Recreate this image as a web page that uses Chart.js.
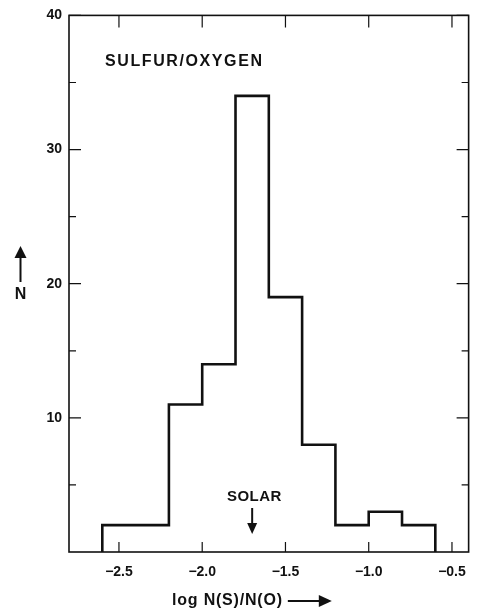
<!DOCTYPE html>
<html>
<head>
<meta charset="utf-8">
<script src="https://cdn.jsdelivr.net/npm/chart.js@4.4.0/dist/chart.umd.min.js"></script>
<style>
  body { margin: 0; background: #fff; }
</style>
</head>
<body>
<canvas id="histChart" width="478" height="612"></canvas>
<script>
// bin edges of log N(S)/N(O), 0.2 dex wide
var binEdges = [-2.6, -2.4, -2.2, -2.0, -1.8, -1.6, -1.4, -1.2, -1.0, -0.8, -0.6];
// number of objects in each bin
var binCounts = [2, 2, 11, 14, 34, 19, 8, 2, 3, 2];
var xTickValues = [-2.5, -2.0, -1.5, -1.0, -0.5];
var yTickValues = [10, 20, 30, 40];
var yMinorTicks = [5, 15, 25, 35];
var solarValue = -1.7;

var FONT = 'Arial, "Liberation Sans", Helvetica, sans-serif';
var INK = '#111';

// histogram outline: up the first edge, across each bin, down the last edge
var outline = [{x: binEdges[0], y: 0}];
for (var i = 0; i < binCounts.length; i++) {
    outline.push({x: binEdges[i], y: binCounts[i]});
    outline.push({x: binEdges[i + 1], y: binCounts[i]});
}
outline.push({x: binEdges[binEdges.length - 1], y: 0});

function minusLabel(v) {
    var s = Math.abs(v).toFixed(1);
    return v < 0 ? '\u2212' + s : s;
}

// draw text letter by letter so it can be spaced out
function spacedText(ctx, str, x, y, spacing) {
    for (var k = 0; k < str.length; k++) {
        ctx.fillText(str[k], x, y);
        x += ctx.measureText(str[k]).width + spacing;
    }
    return x;
}
function spacedWidth(ctx, str, spacing) {
    return ctx.measureText(str).width + spacing * (str.length - 1);
}

function arrowHead(ctx, tipX, tipY, dir, len, half) {
    ctx.beginPath();
    if (dir === 'up') {
        ctx.moveTo(tipX, tipY);
        ctx.lineTo(tipX - half, tipY + len);
        ctx.lineTo(tipX + half, tipY + len);
    } else if (dir === 'down') {
        ctx.moveTo(tipX, tipY);
        ctx.lineTo(tipX - half, tipY - len);
        ctx.lineTo(tipX + half, tipY - len);
    } else {
        ctx.moveTo(tipX, tipY);
        ctx.lineTo(tipX - len, tipY - half);
        ctx.lineTo(tipX - len, tipY + half);
    }
    ctx.closePath();
    ctx.fill();
}

var framePlugin = {
    id: 'frame',
    afterDraw: function (chart) {
        var ctx = chart.ctx, a = chart.chartArea;
        var xs = chart.scales.x, ys = chart.scales.y;
        ctx.save();
        ctx.strokeStyle = INK;
        ctx.fillStyle = INK;

        // box round the plot
        ctx.lineWidth = 1.6;
        ctx.strokeRect(a.left, a.top, a.right - a.left, a.bottom - a.top);

        // inward ticks on all four sides
        ctx.lineWidth = 1.2;
        ctx.beginPath();
        xTickValues.forEach(function (v) {
            var px = xs.getPixelForValue(v);
            ctx.moveTo(px, a.bottom); ctx.lineTo(px, a.bottom - 10);
            ctx.moveTo(px, a.top); ctx.lineTo(px, a.top + 12);
        });
        yTickValues.forEach(function (v) {
            var py = ys.getPixelForValue(v);
            ctx.moveTo(a.left, py); ctx.lineTo(a.left + 12, py);
            ctx.moveTo(a.right, py); ctx.lineTo(a.right - 12, py);
        });
        yMinorTicks.forEach(function (v) {
            var py = ys.getPixelForValue(v);
            ctx.moveTo(a.left, py); ctx.lineTo(a.left + 7, py);
            ctx.moveTo(a.right, py); ctx.lineTo(a.right - 7, py);
        });
        ctx.stroke();

        // panel label
        ctx.font = 'bold 16px ' + FONT;
        ctx.textBaseline = 'middle';
        ctx.textAlign = 'left';
        spacedText(ctx, 'SULFUR/OXYGEN', 105, 62, 1.6);

        // solar value marker
        ctx.font = 'bold 15px ' + FONT;
        var sx = xs.getPixelForValue(solarValue);
        var sw = spacedWidth(ctx, 'SOLAR', 0.4);
        spacedText(ctx, 'SOLAR', sx - sw / 2 + 2, 497, 0.4);
        ctx.lineWidth = 2;
        ctx.beginPath();
        ctx.moveTo(sx, 508); ctx.lineTo(sx, 524);
        ctx.stroke();
        arrowHead(ctx, sx, 534, 'down', 11, 5);

        // y axis title: arrow over N
        ctx.font = 'bold 16px ' + FONT;
        ctx.textAlign = 'center';
        ctx.fillText('N', 20.5, 295);
        ctx.lineWidth = 2;
        ctx.beginPath();
        ctx.moveTo(20.5, 282); ctx.lineTo(20.5, 256);
        ctx.stroke();
        arrowHead(ctx, 20.5, 246, 'up', 12, 6);

        // x axis title followed by an arrow
        ctx.textAlign = 'left';
        var end = spacedText(ctx, 'log N(S)/N(O)', 172, 601, 0.8);
        var ax = end + 5;
        ctx.beginPath();
        ctx.moveTo(ax, 601); ctx.lineTo(ax + 32, 601);
        ctx.stroke();
        arrowHead(ctx, ax + 44, 601, 'right', 13, 6);

        ctx.restore();
    }
};

var tickFont = {family: FONT, size: 14, weight: 'bold'};

new Chart(document.getElementById('histChart'), {
    type: 'line',
    data: {
        datasets: [{
            data: outline,
            borderColor: INK,
            borderWidth: 2.6,
            pointRadius: 0,
            fill: false,
            tension: 0
        }]
    },
    options: {
        responsive: false,
        animation: false,
        layout: {padding: {top: 15, right: 5, left: 0, bottom: 0}},
        plugins: {legend: {display: false}, tooltip: {enabled: false}},
        scales: {
            x: {
                type: 'linear',
                min: -2.8,
                max: -0.4,
                afterBuildTicks: function (s) {
                    s.ticks = xTickValues.map(function (v) { return {value: v}; });
                },
                afterFit: function (s) { s.height = 60; },
                grid: {display: false, drawTicks: false},
                border: {display: false},
                ticks: {
                    padding: 12,
                    color: INK,
                    font: tickFont,
                    maxRotation: 0,
                    callback: function (v) { return minusLabel(v); }
                }
            },
            y: {
                type: 'linear',
                min: 0,
                max: 40,
                afterBuildTicks: function (s) {
                    s.ticks = yTickValues.map(function (v) { return {value: v}; });
                },
                afterFit: function (s) { s.width = 69; },
                grid: {display: false, drawTicks: false},
                border: {display: false},
                ticks: {
                    padding: 7,
                    color: INK,
                    font: tickFont,
                    callback: function (v) { return String(v); }
                }
            }
        }
    },
    plugins: [framePlugin]
});
</script>
</body>
</html>
